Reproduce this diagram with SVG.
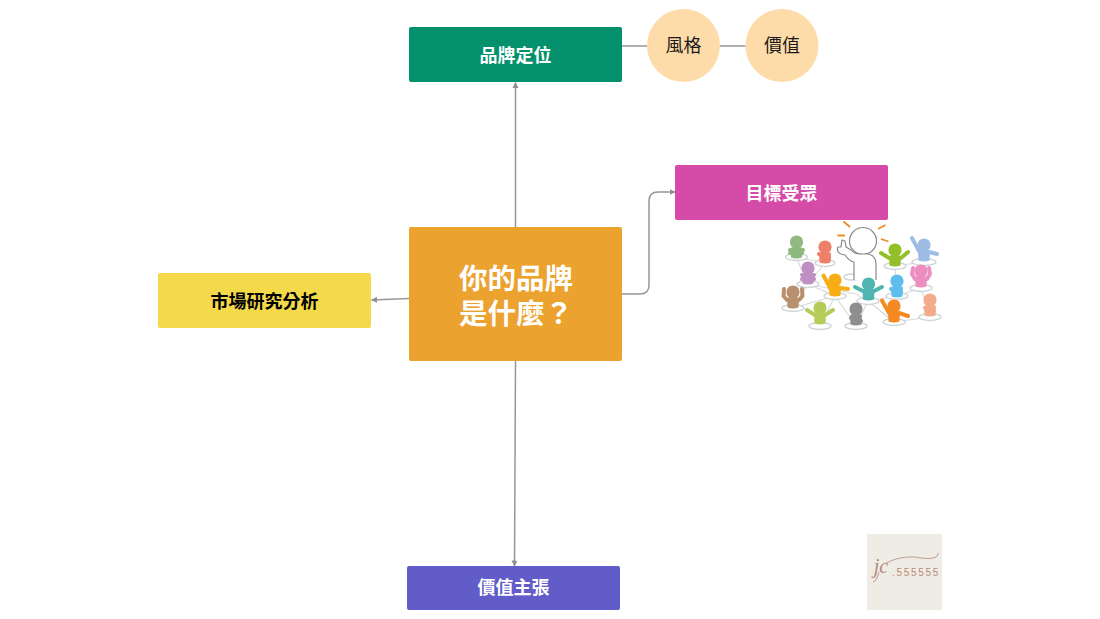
<svg xmlns="http://www.w3.org/2000/svg" xmlns:xlink="http://www.w3.org/1999/xlink" width="1100" height="619" viewBox="0 0 1100 619">
<style>
text{font-family:"Noto Sans CJK TC","Noto Sans CJK SC",sans-serif;text-anchor:middle}
.b{font-size:18px;font-weight:700;fill:#fff}
.r{font-size:18px;font-weight:400;fill:#1a1a1a}
.c{fill:none;stroke:#979797;stroke-width:1.5}
.n{fill:none;stroke:#d6dadd;stroke-width:1.1}
.e{fill:#fff;stroke:#cfd3d6;stroke-width:1.3}
.a{fill:none;stroke-width:4;stroke-linecap:round;stroke-linejoin:round}
.ray{fill:none;stroke:#f08a24;stroke-width:1.8}
</style>
<defs>
<marker id="ah" markerWidth="7" markerHeight="7" refX="5.500" refY="3.500" orient="auto" markerUnits="userSpaceOnUse"><path d="M0 .5L6 3.500L0 6.500z" fill="#8f8f8f"/></marker>
<g id="p"><circle cx="0" cy="0" r="6.600" fill="currentColor"/><path d="M-6 6Q0 3 6 6L5.500 15.500Q0 17.500 -5.500 15.500z" fill="currentColor"/></g>
</defs>
<rect width="1100" height="619" fill="#fff"/>
<g id="connectors">
<path class="c" d="M515.500 227V82.500" marker-end="url(#ah)"/>
<path class="c" d="M409 298.500L371.500 300" marker-end="url(#ah)"/>
<path class="c" d="M622 294H640Q649 294 649 285V201Q649 192 658 192H675" marker-end="url(#ah)"/>
<path class="c" d="M515.500 361L514.500 566" marker-end="url(#ah)"/>
<path class="c" d="M622 46H647M720 46H746"/>
</g>
<g id="node-position"><rect x="409" y="27" width="213" height="55" rx="2" fill="#03906c"/><text class="b" x="515.500" y="62">品牌定位</text></g>
<g id="node-style"><circle cx="683.500" cy="45.500" r="36.500" fill="#fedcaa"/><text class="r" x="683.500" y="52">風格</text></g>
<g id="node-value"><circle cx="782" cy="45.500" r="36.500" fill="#fedcaa"/><text class="r" x="782" y="52">價值</text></g>
<g id="node-audience"><rect x="675" y="165" width="213" height="55" rx="2" fill="#d64aa8"/><text class="b" x="781.500" y="200">目標受眾</text></g>
<g id="node-market"><rect x="158" y="273" width="213" height="55" rx="2" fill="#f4d94a"/><text class="b" x="264.500" y="307.500" style="fill:#000">市場研究分析</text></g>
<g id="node-center"><rect x="409" y="227" width="213" height="134" rx="2" fill="#eca22f"/><text font-size="28.500" font-weight="700" fill="#fff"><tspan x="516" y="289">你的品牌</tspan><tspan x="516" y="324">是什麼？</tspan></text></g>
<g id="node-proposition"><rect x="407" y="566" width="213" height="44" rx="2" fill="#615cc7"/><text class="b" x="513.500" y="594">價值主張</text></g>
<g id="audience-illustration">
<path class="n" d="M796 257L808 284L793 308M825 263L808 284L835 296M808 284L856 294L868 301M835 296L820 326M835 296L856 326M868 301L856 326M868 301L897 296M897 296L921 288M921 288L930 317M921 288L924 262M895 266L924 262M895 266L897 296M897 296L894 322M894 322L930 317M793 308L835 296M796 257L825 263M868 301L894 322"/>
<g class="e">
<ellipse cx="796.500" cy="257" rx="11" ry="3.500"/><ellipse cx="825" cy="263" rx="10" ry="3.500"/><ellipse cx="808" cy="284" rx="11" ry="3.500"/><ellipse cx="793" cy="308" rx="11" ry="3.500"/><ellipse cx="835" cy="296" rx="11" ry="3.500"/><ellipse cx="820" cy="326" rx="11" ry="3.500"/><ellipse cx="856" cy="326" rx="11" ry="3.500"/><ellipse cx="868" cy="301" rx="11" ry="3.500"/><ellipse cx="897" cy="296" rx="11" ry="3.500"/><ellipse cx="894" cy="322" rx="11" ry="3.500"/><ellipse cx="930" cy="317" rx="11" ry="3.500"/><ellipse cx="921" cy="288" rx="11" ry="3.500"/><ellipse cx="895" cy="266" rx="11" ry="3.500"/><ellipse cx="924" cy="262" rx="12" ry="3.500"/><ellipse cx="852" cy="277" rx="8" ry="3"/>
</g>
<g style="color:#8fb97e"><use xlink:href="#p" x="796.500" y="242"/><path class="a" stroke="currentColor" d="M790 250L802 253M803 250L790 253"/></g>
<g style="color:#ee8069"><use xlink:href="#p" x="825" y="247"/><path class="a" stroke="currentColor" d="M819 254L829 258"/></g>
<g style="color:#c08fc4"><use xlink:href="#p" x="808" y="268"/><path class="a" stroke="currentColor" d="M802 275L814 279M814 275L802 279"/></g>
<g style="color:#b8906d"><use xlink:href="#p" x="793" y="292"/><path class="a" stroke="currentColor" d="M787 300L783.500 296L784 289M799 300L802.500 296L802 289"/></g>
<g style="color:#f9ad14"><use xlink:href="#p" x="835" y="280"/><path class="a" stroke="currentColor" d="M830 288L823.500 275.500M840 288L848 289"/></g>
<g style="color:#b5cc5a"><use xlink:href="#p" x="820" y="308"/><path class="a" stroke="currentColor" d="M815 315L807 310M825 315L833 310"/></g>
<g style="color:#8e8e8e"><use xlink:href="#p" x="856" y="309"/><path class="a" stroke="currentColor" d="M851 318L861 321"/></g>
<g style="color:#f58a22"><use xlink:href="#p" x="894" y="306"/><path class="a" stroke="currentColor" d="M889 313L882 300.500M899 313L908 316"/></g>
<g style="color:#f4ab8c"><use xlink:href="#p" x="930" y="300"/><path class="a" stroke="currentColor" d="M925 308L934 311"/></g>
<g style="color:#ec8fc0"><use xlink:href="#p" x="921" y="271"/><path class="a" stroke="currentColor" d="M915 279L912 274L913 268M927 279L930 274L929 268"/></g>
<g style="color:#93c02a"><use xlink:href="#p" x="895" y="250"/><path class="a" stroke="currentColor" d="M889 258L881 253M901 258L908 252"/></g>
<g style="color:#9dbde4"><use xlink:href="#p" x="924" y="245"/><path class="a" stroke="currentColor" d="M919 251L912 238M929 252L937 254"/></g>
<g id="speaker">
<circle cx="863" cy="241" r="13.500" fill="#fff" stroke="#8a8a8a" stroke-width="1.200"/>
<path d="M854 280V262Q849 261 845 255L841 254Q836 252 838 247L841 247L842 240L845 241L846 247L851 250Q854 254 860 254H868Q875 255 876 263V280" fill="#fff" stroke="#8a8a8a" stroke-width="1.200" stroke-linejoin="round"/>
<path class="ray" d="M843.500 221.500L850 227M837.500 235.500H845M878 229L885.500 225M881 239L888.500 241.500"/>
</g>
<g style="color:#4fb5b0"><use xlink:href="#p" x="868.500" y="284"/><path class="a" stroke="currentColor" d="M863 291L855 287M874 291L882 287"/></g>
<g style="color:#5fbdec"><use xlink:href="#p" x="897" y="281"/><path class="a" stroke="currentColor" d="M891 289L901 292"/></g>
</g>
<g id="logo">
<rect x="867" y="534" width="75" height="76" fill="#efece6"/>
<path d="M873 582Q877 581 879 572M886 563Q900 556 915 557Q930 560 936 557Q939 555 938 553" fill="none" stroke="#b58a78" stroke-width=".8"/>
<text x="881" y="573" font-size="20" style="font-family:'Liberation Serif',serif;font-style:italic;fill:#b58a78">jc</text>
<text x="916" y="576" font-size="10" style="font-family:'Liberation Sans',sans-serif;fill:#b58a78;letter-spacing:1.700px">.555555</text>
</g>
</svg>
